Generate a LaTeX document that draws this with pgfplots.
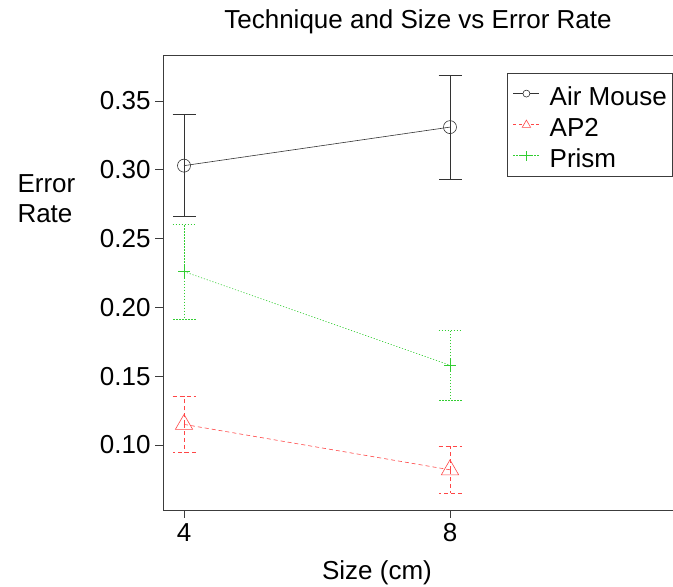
\documentclass[border=0pt]{standalone}
\usepackage{pgfplots}
\pgfplotsset{compat=1.18}
\usepackage{fontspec}
\setmainfont{Liberation Sans}

\definecolor{apred}{RGB}{255,70,70}
\definecolor{prgreen}{RGB}{50,205,50}
\definecolor{axisgray}{RGB}{60,60,60}

\newcommand{\bigfont}{\fontsize{26bp}{30bp}\selectfont}

\begin{document}
\begin{tikzpicture}[x=1bp,y=1bp]
\useasboundingbox (0,0) rectangle (673,587);
\begin{axis}[
  at={(163bp,77bp)}, anchor=south west,
  scale only axis, width=517bp, height=455bp,
  xmin=3.684, xmax=11.459, ymin=0.0528, ymax=0.3834,
  xtick={4,8}, ytick={0.10,0.15,0.20,0.25,0.30,0.35},
  xtick pos=bottom, ytick pos=left,
  tick align=outside, major tick length=8bp,
  axis line style={axisgray, line width=0.8bp},
  tick style={axisgray, line width=0.8bp},
  /pgf/number format/assume math mode=true,
  yticklabel style={/pgf/number format/fixed, /pgf/number format/fixed zerofill,
    /pgf/number format/precision=2, xshift=-1bp},
  ticklabel style={font=\bigfont},
  xticklabel style={yshift=-2bp},
  legend style={at={(0.6648,0.9611)}, anchor=north west,
    draw=axisgray, line width=0.8bp, font=\bigfont,
    inner xsep=6bp, inner ysep=8bp, row sep=6bp, column sep=10bp,
    nodes={inner sep=0bp, text height=24bp, text depth=1bp, anchor=west}},
  legend cell align=left,
  error bars/y dir=both, error bars/y explicit,
]
% Air Mouse
\addplot[black!80, line width=0.6bp, mark=o, mark size=6.5bp, forget plot,
  error bars/error bar style={black!80, line width=0.6bp},
  error bars/error mark options={rotate=90, mark size=11.5bp, black!80, line width=0.6bp}]
  coordinates {(4,0.303) +- (0,0.037) (8,0.331) +- (0,0.038)};
% AP2
\addplot[apred, line width=0.6bp, dash pattern=on 4bp off 3bp, mark=triangle, mark size=10bp,
  mark options={solid}, forget plot,
  error bars/error bar style={apred, line width=0.6bp, dash pattern=on 4bp off 3bp},
  error bars/error mark options={rotate=90, mark size=11.5bp, apred, line width=0.6bp, dash pattern=on 4bp off 3bp}]
  coordinates {(4,0.115) +- (0,0.0205) (8,0.082) +- (0,0.017)};
% Prism
\addplot[prgreen, line width=0.6bp, dash pattern=on 1.2bp off 1.8bp, mark=+, mark size=6bp,
  mark options={solid}, forget plot,
  error bars/error bar style={prgreen, line width=0.6bp, dash pattern=on 1.2bp off 1.8bp},
  error bars/error mark options={rotate=90, mark size=11.5bp, prgreen, line width=0.6bp, dash pattern=on 1.2bp off 1.8bp}]
  coordinates {(4,0.226) +- (0,0.0347) (8,0.158) +- (0,0.0253)};

% legend keys: short line with a small marker in the middle
\addlegendimage{legend image code/.code={
  \draw[black!80, line width=0.6bp] (-13bp,0bp) -- (-3.5bp,0bp) (3.5bp,0bp) -- (13bp,0bp);
  \draw[black!80, line width=0.6bp] (0bp,0bp) circle (3.5bp);}}
\addlegendentry{Air Mouse}
\addlegendimage{legend image code/.code={
  \draw[apred, line width=0.6bp, dash pattern=on 3bp off 2.5bp] (-13bp,0bp) -- (-4.5bp,0bp) (4.5bp,0bp) -- (13bp,0bp);
  \draw[apred, line width=0.6bp] (0bp,4.5bp) -- (-4.2bp,-2.8bp) -- (4.2bp,-2.8bp) -- cycle;}}
\addlegendentry{AP2}
\addlegendimage{legend image code/.code={
  \draw[prgreen, line width=0.6bp, dash pattern=on 1.2bp off 1.8bp] (-13bp,0bp) -- (13bp,0bp);
  \draw[prgreen, line width=0.8bp] (-5bp,0bp) -- (5bp,0bp) (0bp,-5bp) -- (0bp,5bp);}}
\addlegendentry{Prism}
\end{axis}
\node[font=\bigfont] at (418,565) {Technique and Size vs Error Rate};
\node[font=\bigfont, align=left, anchor=west] at (14,388) {Error\\Rate};
\node[font=\bigfont] at (377,14) {Size (cm)};
\end{tikzpicture}
\end{document}
